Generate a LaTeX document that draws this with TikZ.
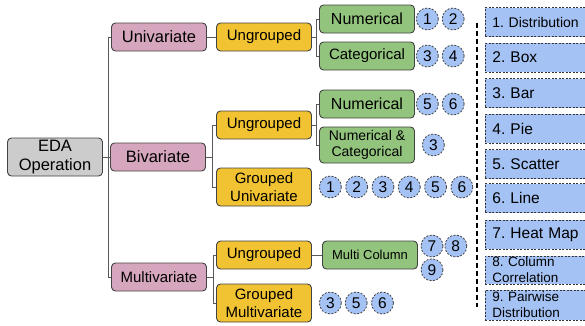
\documentclass[tikz,border=0pt]{standalone}
\usepackage{fontspec}
\setmainfont{Liberation Sans}
\usetikzlibrary{positioning}
\frenchspacing

\definecolor{edagray}{HTML}{CCCCCC}
\definecolor{varpink}{HTML}{D5A6BD}
\definecolor{grpyellow}{HTML}{F1C232}
\definecolor{kindgreen}{HTML}{93C47D}
\definecolor{plotblue}{HTML}{A4C2F4}
\definecolor{edgegray}{HTML}{434343}
\definecolor{wiregray}{HTML}{595959}

\begin{document}
\begin{tikzpicture}[x=1pt, y=-1pt,
                font=\fontsize{15.5}{17}\selectfont,
                box/.style={rectangle, rounded corners=4pt, draw=edgegray, line width=0.9pt,
                            minimum width=95pt, minimum height=28pt, inner sep=0pt, align=center},
                root/.style={box, fill=edagray, minimum height=38pt, font=\fontsize{16.5}{19}\selectfont},
                var/.style={box, fill=varpink, font=\fontsize{16.5}{19}\selectfont},
                grp/.style={box, fill=grpyellow, font=\fontsize{15}{18}\selectfont},
                kind/.style={box, fill=kindgreen},
                num/.style={circle, draw=edgegray, line width=0.8pt, dash pattern=on 2pt off 1.5pt,
                            fill=plotblue, minimum size=22pt, inner sep=0pt},
                legend/.style={rectangle, draw=black!80, line width=0.8pt, dash pattern=on 2pt off 1.5pt,
                            fill=plotblue, anchor=west, minimum height=29pt, text width=102pt,
                            inner xsep=7pt, inner ysep=0pt, align=left},
                link/.style={draw=wiregray, line width=0.9pt},
            ]
            \path[use as bounding box, clip] (0,0) rectangle (585,325);

            % tree
            \node[root] (eda) at (55,157) {EDA\\Operation};
            \node[var] (uni) at (159,37) {Univariate};
            \node[var] (biv) at (158,157) {Bivariate};
            \node[var, font=\fontsize{15}{17}\selectfont] (mul) at (159,277) {Multivariate};

            \node[grp] (ung1) at (264,37) {Ungrouped};
            \node[grp] (ung2) at (264,125) {Ungrouped};
            \node[grp, minimum height=38pt] (gu) at (264,187) {Grouped\\Univariate};
            \node[grp] (ung3) at (264,255) {Ungrouped};
            \node[grp, minimum height=38pt] (gm) at (264,303) {Grouped\\Multivariate};

            \node[kind, font=\fontsize{16}{17}\selectfont] (num1) at (367,19) {Numerical};
            \node[kind, font=\fontsize{15}{17}\selectfont] (cat1) at (367,56) {Categorical};
            \node[kind, font=\fontsize{16}{17}\selectfont] (num2) at (367,104) {Numerical};
            \node[kind, minimum height=36pt, font=\fontsize{14}{16.5}\selectfont] (numcat) at (367,145) {Numerical \&\\Categorical};
            \node[kind, font=\fontsize{13}{15}\selectfont] (mc) at (370,255) {Multi Column};

            \path[link] (eda.east) -- ++(5,0) |- (uni.west);
            \path[link] (eda.east) -- (biv.west);
            \path[link] (eda.east) -- ++(5,0) |- (mul.west);
            \path[link] (uni.east) -- (ung1.west);
            \path[link] (biv.east) -- ++(6,0) |- (ung2.west);
            \path[link] (biv.east) -- ++(6,0) |- (gu.west);
            \path[link] (mul.east) -- ++(6,0) |- (ung3.west);
            \path[link] (mul.east) -- ++(6,0) |- (gm.west);
            \path[link] (ung1.east) -- ++(4,0) |- (num1.west);
            \path[link] (ung1.east) -- ++(4,0) |- (cat1.west);
            \path[link] (ung2.east) -- ++(4,0) |- (num2.west);
            \path[link] (ung2.east) -- ++(4,0) |- (numcat.west);
            \path[link] (ung3.east) -- (mc.west);

            % plot numbers
            \node[num, right=1pt of num1] (n1a) {1};
            \node[num, right=3pt of n1a] (n1b) {2};
            \node[num, right=1pt of cat1] (c1a) {3};
            \node[num, right=3pt of c1a] (c1b) {4};
            \node[num, right=1pt of num2] (n2a) {5};
            \node[num, right=3pt of n2a] (n2b) {6};
            \node[num, right=7pt of numcat] (nc) {3};
            \node[num, right=7pt of gu] (gu1) {1};
            \node[num, right=3.5pt of gu1] (gu2) {2};
            \node[num, right=3.5pt of gu2] (gu3) {3};
            \node[num, right=3.5pt of gu3] (gu4) {4};
            \node[num, right=3.5pt of gu4] (gu5) {5};
            \node[num, right=3.5pt of gu5] (gu6) {6};
            \node[num] (mc1) at (432,246) {7};
            \node[num, right=1pt of mc1] (mc2) {8};
            \node[num, below=1pt of mc1] (mc3) {9};
            \node[num, right=7pt of gm] (gm1) {3};
            \node[num, right=3pt of gm1] (gm2) {5};
            \node[num, right=3.5pt of gm2] (gm3) {6};

            % legend
            \draw[line width=1.3pt, dash pattern=on 5pt off 3pt] (477,23) -- (477,307);
            \node[legend, font=\fontsize{14}{16}\selectfont] (l1) at (485,22) {1. Distribution};
            \node[legend] (l2) at (485,57.5) {2. Box};
            \node[legend] (l3) at (485,93) {3. Bar};
            \node[legend] (l4) at (485,128.5) {4. Pie};
            \node[legend] (l5) at (485,164) {5. Scatter};
            \node[legend] (l6) at (485,198) {6. Line};
            \node[legend] (l7) at (485,234.5) {7. Heat Map};
            \node[legend, minimum height=28pt, font=\fontsize{13.5}{16}\selectfont] (l8) at (485,270) {8. Column\\Correlation};
            \node[legend, minimum height=30pt, font=\fontsize{13.5}{16}\selectfont] (l9) at (485,305) {9. Pairwise\\Distribution};
\end{tikzpicture}
\end{document}
